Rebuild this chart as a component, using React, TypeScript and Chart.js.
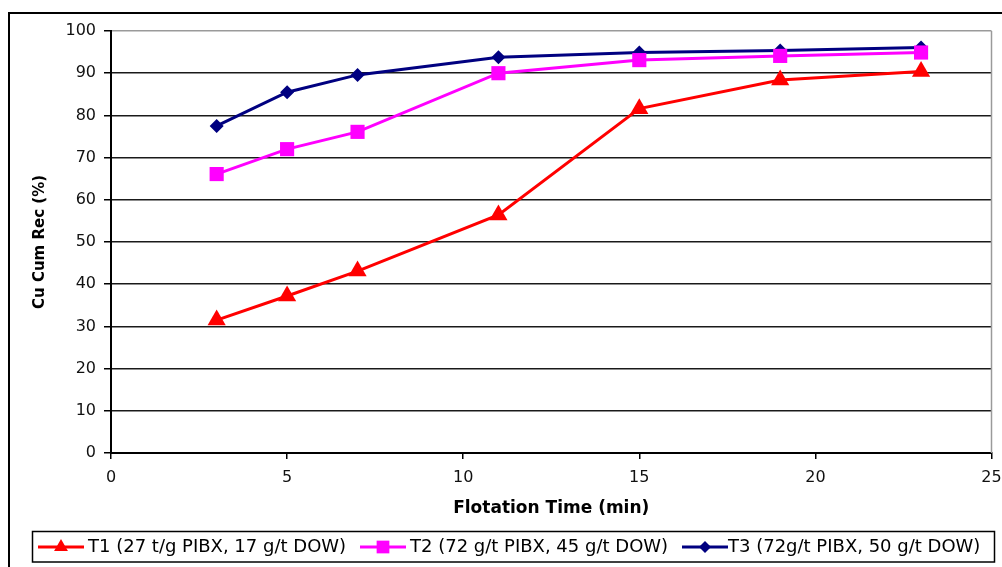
import React, { useEffect, useRef } from 'react';
import { Chart, registerables } from 'chart.js';

Chart.register(...registerables);

// ---- data ----
const timeMin = [3, 5, 7, 11, 15, 19, 23];
const t1Values = [31.5, 37.2, 43.1, 56.4, 81.6, 88.4, 90.4];
const t2Values = [66.1, 72.0, 76.1, 90.0, 93.1, 94.1, 94.9];
const t3Values = [77.5, 85.5, 89.6, 93.8, 94.9, 95.4, 96.1];
const seriesLabels = [
  'T1 (27 t/g PIBX, 17 g/t DOW)',
  'T2 (72 g/t PIBX, 45 g/t DOW)',
  'T3 (72g/t PIBX, 50 g/t DOW)',
];
const seriesColors = ['#ff0000', '#ff00ff', '#000080'];
const seriesMarkers = ['triangle', 'rect', 'rectRot'];
const xTickValues = [0, 5, 10, 15, 20, 25];
const yTickValues = [0, 10, 20, 30, 40, 50, 60, 70, 80, 90, 100];
const xTitle = 'Flotation Time (min)';
const yTitle = 'Cu Cum Rec (%)';

const FONT = "'DejaVu Sans', 'Liberation Sans', sans-serif";

function drawMarker(ctx: CanvasRenderingContext2D, style: string, x: number, y: number, r: number) {
  ctx.beginPath();
  if (style === 'triangle') {
    ctx.moveTo(x, y - r);
    ctx.lineTo(x + r * Math.sin((2 * Math.PI) / 3), y - r * Math.cos((2 * Math.PI) / 3));
    ctx.lineTo(x + r * Math.sin((4 * Math.PI) / 3), y - r * Math.cos((4 * Math.PI) / 3));
  } else if (style === 'rect') {
    const s = r * Math.SQRT1_2;
    ctx.rect(x - s, y - s, 2 * s, 2 * s);
  } else {
    ctx.moveTo(x - r, y);
    ctx.lineTo(x, y - r);
    ctx.lineTo(x + r, y);
    ctx.lineTo(x, y + r);
  }
  ctx.closePath();
  ctx.fill();
}

const framePlugin = {
  id: 'frameAndLegend',
  beforeDatasetsDraw(chart: any) {
    const { ctx, chartArea } = chart;
    ctx.save();
    ctx.strokeStyle = '#9a9a9a';
    ctx.lineWidth = 1.5;
    ctx.beginPath();
    ctx.moveTo(chartArea.right, chartArea.top);
    ctx.lineTo(chartArea.right, chartArea.bottom);
    ctx.stroke();
    ctx.restore();
  },
  afterDraw(chart: any) {
    const { ctx } = chart;
    ctx.save();
    // outer chart border
    ctx.strokeStyle = '#000';
    ctx.lineWidth = 2;
    ctx.strokeRect(9, 13, 1100, 1100);
    // legend box
    ctx.lineWidth = 1.5;
    ctx.strokeRect(32.5, 531.5, 962, 30.5);
    const lineStarts = [38, 360, 682];
    const textStarts = [88, 410, 728];
    const markerR = [8, 9, 6];
    const cy = 547;
    for (let i = 0; i < seriesLabels.length; i++) {
      ctx.strokeStyle = seriesColors[i];
      ctx.fillStyle = seriesColors[i];
      ctx.lineWidth = 3;
      ctx.beginPath();
      ctx.moveTo(lineStarts[i], cy);
      ctx.lineTo(lineStarts[i] + 46, cy);
      ctx.stroke();
      drawMarker(ctx, seriesMarkers[i], lineStarts[i] + 23, cy, markerR[i]);
      ctx.fillStyle = '#000';
      ctx.font = `18px ${FONT}`;
      ctx.textBaseline = 'middle';
      ctx.textAlign = 'left';
      ctx.fillText(seriesLabels[i], textStarts[i], cy);
    }
    ctx.restore();
  },
};

export default function App() {
  const ref = useRef<HTMLCanvasElement>(null);

  useEffect(() => {
    const seriesValues = [t1Values, t2Values, t3Values];
    const pointRadii = [10.5, 10, 7];
    const chart = new Chart(ref.current as HTMLCanvasElement, {
      type: 'line',
      data: {
        datasets: seriesLabels.map((label, i) => ({
          label,
          data: timeMin.map((t, j) => ({ x: t, y: seriesValues[i][j] })),
          borderColor: seriesColors[i],
          backgroundColor: seriesColors[i],
          pointBackgroundColor: seriesColors[i],
          pointBorderColor: seriesColors[i],
          pointBorderWidth: 0,
          pointStyle: seriesMarkers[i] as any,
          pointRadius: pointRadii[i],
          borderWidth: 3,
          tension: 0,
          fill: false,
          clip: false as any,
        })),
      },
      options: {
        animation: false,
        responsive: false,
        devicePixelRatio: 1,
        layout: { padding: { left: 0, top: 31, right: 7, bottom: 0 } },
        plugins: { legend: { display: false }, tooltip: { enabled: false } },
        scales: {
          x: {
            type: 'linear',
            min: 0,
            max: 25,
            afterBuildTicks: (scale: any) => {
              scale.ticks = xTickValues.map((v) => ({ value: v }));
            },
            afterFit: (scale: any) => {
              scale.height = 114;
              scale.paddingRight = 0;
              scale.paddingLeft = 0;
            },
            ticks: {
              font: { family: FONT, size: 16 },
              color: '#111',
              padding: 9,
              maxRotation: 0,
              autoSkip: false,
            },
            grid: {
              drawOnChartArea: false,
              drawTicks: true,
              tickLength: 6,
              color: '#000',
              lineWidth: 1.5,
            },
            border: { color: '#000', width: 2 },
            title: {
              display: true,
              text: xTitle,
              color: '#000',
              font: { family: FONT, size: 17, weight: 'bold' },
              padding: { top: 0, bottom: 48 },
            },
          },
          y: {
            type: 'linear',
            min: 0,
            max: 100,
            afterBuildTicks: (scale: any) => {
              scale.ticks = yTickValues.map((v) => ({ value: v }));
            },
            afterFit: (scale: any) => {
              scale.width = 111;
            },
            ticks: {
              font: { family: FONT, size: 16 },
              color: '#111',
              padding: 8,
              autoSkip: false,
            },
            grid: {
              color: (c: any) => (c.tick && c.tick.value === 100 ? '#9a9a9a' : '#1a1a1a'),
              tickColor: '#000',
              lineWidth: 1.5,
              tickLength: 7,
            },
            border: { color: '#000', width: 2 },
            title: {
              display: true,
              text: yTitle,
              color: '#000',
              font: { family: FONT, size: 15, weight: 'bold' },
              padding: { top: 31, bottom: 0 },
            },
          },
        },
      },
      plugins: [framePlugin],
    });
    return () => chart.destroy();
  }, []);

  return (
    <div style={{ position: 'absolute', left: 0, top: 0, width: 1002, height: 567, background: '#fff' }}>
      <canvas ref={ref} width={1002} height={567} style={{ display: 'block' }} />
    </div>
  );
}
